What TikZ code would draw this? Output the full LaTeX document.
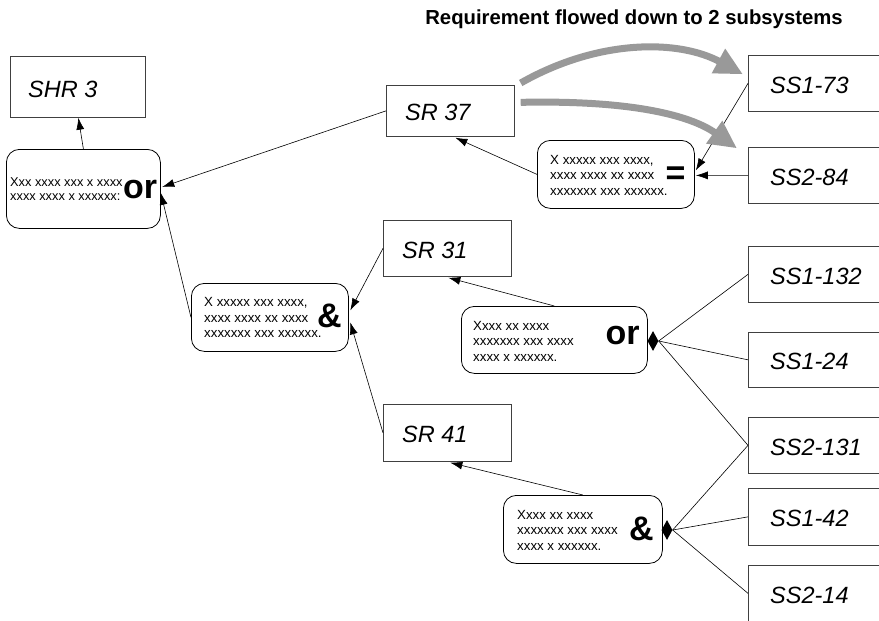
\documentclass[tikz,border=0pt]{standalone}
\usepackage{fontspec}
\setmainfont{Liberation Sans}
\usetikzlibrary{arrows.meta,calc,shapes.geometric}
\begin{document}
\begin{tikzpicture}[x=1pt,y=-1pt,
  req/.style={draw=black!75, line width=0.7pt, rectangle, inner sep=0pt, anchor=north west},
  lbl/.style={anchor=west, font=\fontsize{23.5}{26}\selectfont\itshape, inner sep=0pt},
  cond/.style={draw=black, line width=0.8pt, rounded corners=13pt, rectangle, inner sep=0pt, anchor=north west},
  small/.style={anchor=west, align=left, font=\fontsize{13.3}{15.5}\selectfont, inner sep=0pt},
  op/.style={font=\fontsize{34}{34}\selectfont\bfseries, inner sep=0pt},
  conn/.style={line width=0.6pt, -{Latex[length=12pt,width=8pt]}},
  plain/.style={line width=0.6pt},
  dia/.style={diamond, fill=black, inner sep=0pt, minimum width=11pt, minimum height=20pt, aspect=0.55},
  flow/.style={draw=black!40, line width=7pt, -{Triangle[length=28pt,width=26pt]}}
]
\useasboundingbox (0,0) rectangle (879,621);
\clip (0,0) rectangle (879,621);

% title
\node[anchor=base, font=\fontsize{20.3}{24}\selectfont\bfseries, inner sep=0pt] (title) at (634,24.5) {Requirement flowed down to 2 subsystems};

% requirement boxes
\node[req, minimum width=135pt, minimum height=61pt] (shr3) at (10,56) {};
\node[lbl] (shr3t) at ($(shr3.west)+(18,3)$) {SHR 3};

\node[req, minimum width=128pt, minimum height=51pt] (sr37) at (386,85) {};
\node[lbl] (sr37t) at ($(sr37.west)+(19,2)$) {SR 37};

\node[req, minimum width=128pt, minimum height=56pt] (sr31) at (383,220) {};
\node[lbl] (sr31t) at ($(sr31.west)+(19,2)$) {SR 31};

\node[req, minimum width=128pt, minimum height=57pt] (sr41) at (383,404) {};
\node[lbl] (sr41t) at ($(sr41.west)+(19,2)$) {SR 41};

% subsystem boxes (cut by the right edge)
\node[req, minimum width=160pt, minimum height=56pt] (ss173) at (748,55) {};
\node[lbl] (ss173t) at ($(ss173.west)+(22,2)$) {SS1-73};
\node[req, minimum width=160pt, minimum height=56pt] (ss284) at (748,147) {};
\node[lbl] (ss284t) at ($(ss284.west)+(22,2)$) {SS2-84};
\node[req, minimum width=160pt, minimum height=56pt] (ss1132) at (748,246) {};
\node[lbl] (ss1132t) at ($(ss1132.west)+(22,2)$) {SS1-132};
\node[req, minimum width=160pt, minimum height=55pt] (ss124) at (748,332) {};
\node[lbl] (ss124t) at ($(ss124.west)+(22,2)$) {SS1-24};
\node[req, minimum width=160pt, minimum height=56pt] (ss2131) at (748,417) {};
\node[lbl] (ss2131t) at ($(ss2131.west)+(22,2)$) {SS2-131};
\node[req, minimum width=160pt, minimum height=57pt] (ss142) at (748,488) {};
\node[lbl] (ss142t) at ($(ss142.west)+(22,2)$) {SS1-42};
\node[req, minimum width=160pt, minimum height=62pt] (ss214) at (748,565) {};
\node[lbl] (ss214t) at ($(ss214.west)+(22,-1)$) {SS2-14};

% condition boxes
\node[cond, minimum width=154pt, minimum height=79pt] (or1) at (6,149) {};
\node[small, font=\fontsize{12.8}{14}\selectfont] (or1t) at ($(or1.west)+(4,0.5)$) {Xxx xxxx xxx x xxxx\\xxxx xxxx x xxxxxx:};
\node[op] (or1op) at (140,190) {or};

\node[cond, minimum width=157pt, minimum height=68pt] (eq) at (537,140) {};
\node[small] (eqt) at ($(eq.west)+(13,1)$) {X xxxxx xxx xxxx,\\xxxx xxxx xx xxxx\\xxxxxxx xxx xxxxxx.};
\node[op] (eqop) at (675.5,176) {=};

\node[cond, minimum width=157pt, minimum height=68pt] (and1) at (191,283) {};
\node[small] (and1t) at ($(and1.west)+(13,0.5)$) {X xxxxx xxx xxxx,\\xxxx xxxx xx xxxx\\xxxxxxx xxx xxxxxx.};
\node[op] (and1op) at (329.5,316) {\&};

\node[cond, minimum width=186pt, minimum height=67pt] (or2) at (461,306) {};
\node[small] (or2t) at ($(or2.west)+(12,1.5)$) {Xxxx xx xxxx\\xxxxxxx xxx xxxx\\xxxx x xxxxxx.};
\node[op] (or2op) at (622.5,336) {or};
\node[dia] (or2d) at (653,341) {};

\node[cond, minimum width=159pt, minimum height=68pt] (and2) at (503,495) {};
\node[small] (and2t) at ($(and2.west)+(14,1)$) {Xxxx xx xxxx\\xxxxxxx xxx xxxx\\xxxx x xxxxxx.};
\node[op] (and2op) at (641.5,529) {\&};
\node[dia] (and2d) at (667,530) {};

% connectors
\draw[conn] (or1.north) -- ($(shr3.south)+(0.5,0)$);
\draw[conn] (sr37.west) -- ($(or1.east)+(1.5,-2)$);
\draw[conn] (and1.west) -- ($(or1.east)+(0,4)$);
\draw[conn] (eq.west) -- ($(sr37.south)+(5,1)$);
\draw[conn] (ss173.west) -- ($(eq.east)+(1,-4)$);
\draw[conn] (ss284.west) -- ($(eq.east)+(1,1)$);
\draw[conn] (sr31.west) -- ($(and1.east)+(1.5,-7)$);
\draw[conn] (sr41.west) -- ($(and1.east)+(1.5,5)$);
\draw[conn] (or2.north) -- ($(sr31.south)+(1,1)$);
\draw[conn] (and2.north) -- ($(sr41.south)+(3,1)$);

\draw[plain] (ss1132.west) -- (or2d.east);
\draw[plain] (ss124.west) -- (or2d.east);
\draw[plain] (ss2131.west) -- (or2d.east);
\draw[plain] (ss2131.west) -- (and2d.east);
\draw[plain] (ss142.west) -- (and2d.east);
\draw[plain] ($(ss214.west)+(0,-3)$) -- (and2d.east);

% flow-down arrows
\coordinate (f1s) at ($(sr37.north east)+(6,-2)$);
\coordinate (f1e) at ($(ss173.west)+(-5,-9)$);
\coordinate (f2s) at ($(sr37.east)+(6,-8.5)$);
\coordinate (f2e) at ($(ss284.west)+(-11,-27)$);
\draw[flow] (f1s) .. controls (600,38) and (680,40) .. (f1e);
\draw[flow] (f2s) .. controls (630,100) and (690,115) .. (f2e);
\end{tikzpicture}
\end{document}
